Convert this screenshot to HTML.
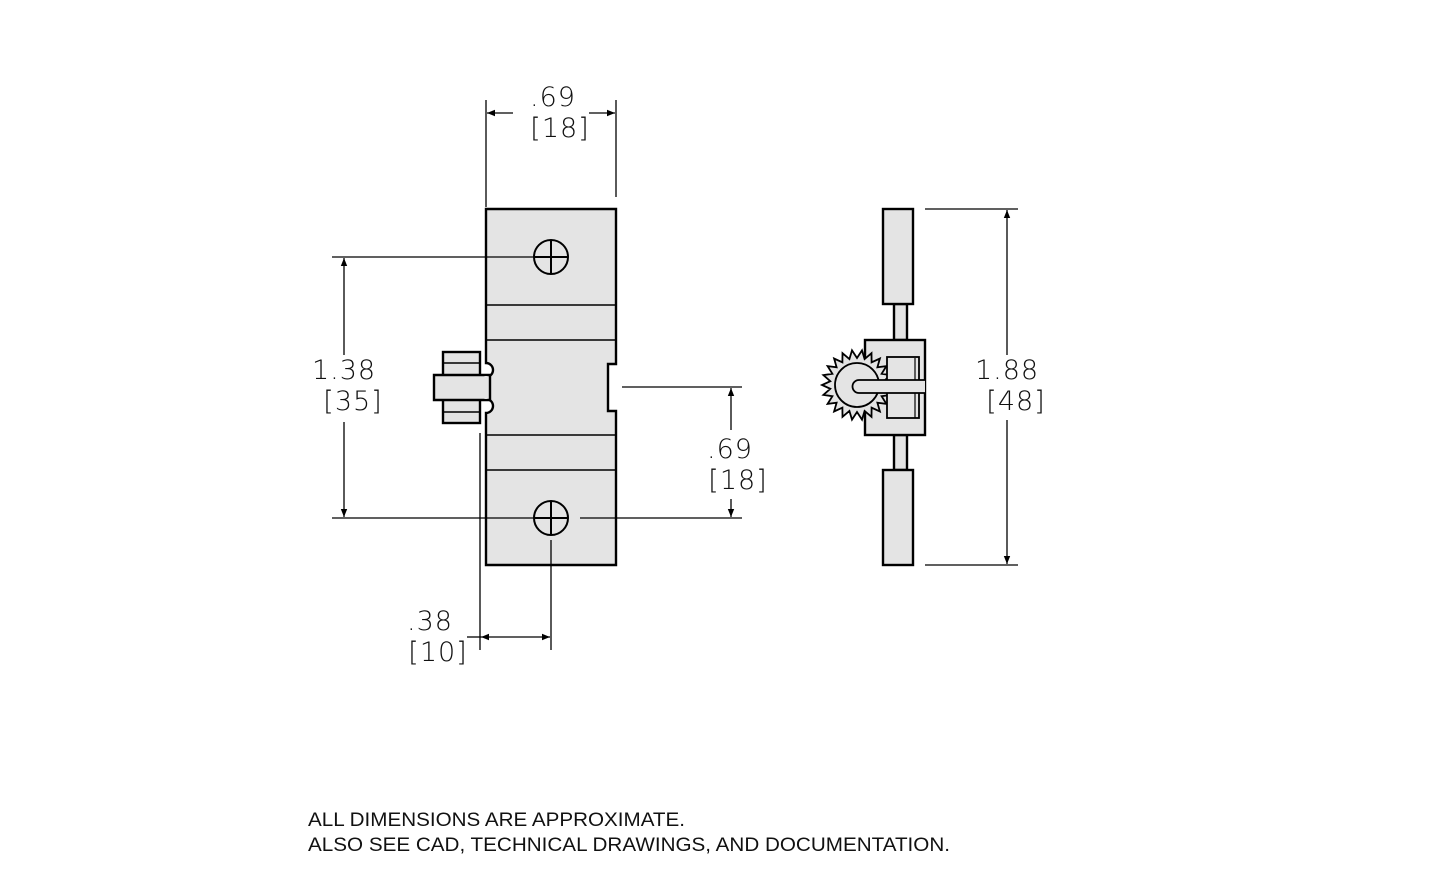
<!DOCTYPE html>
<html><head><meta charset="utf-8"><style>
html,body{margin:0;padding:0;background:#fff;}
svg{display:block}
text{font-family:"DejaVu Sans","Liberation Sans",sans-serif;fill:#111;}
.n{font-size:27px;font-weight:300;letter-spacing:1px}
.f{font-family:"Liberation Sans",sans-serif;font-size:19px}
</style></head><body>
<svg width="1430" height="879" viewBox="0 0 1430 879" xmlns="http://www.w3.org/2000/svg">
<defs>
<marker id="a" viewBox="0 0 10 10" refX="10" refY="5" markerWidth="12" markerHeight="8" markerUnits="userSpaceOnUse" orient="auto-start-reverse"><path d="M0,1 L10,5 L0,9 Z" fill="#000"/></marker>
</defs>
<!-- front view -->
<g stroke="#000" stroke-width="2.4" fill="#e4e4e4">
<path d="M486,209 H616 V364 H608 V411 H616 V565 H486 V413 A6,6 0 1 0 486,399 L486,377 A6,6 0 1 0 486,363 Z"/>
<rect x="443" y="352" width="37" height="71" />
<path d="M434,375 H490 V400 H434 Z"/>
</g>
<g stroke="#000" stroke-width="1.5" fill="none">
<line x1="487" y1="305" x2="615" y2="305"/><line x1="487" y1="340" x2="615" y2="340"/>
<line x1="487" y1="435" x2="615" y2="435"/><line x1="487" y1="470" x2="615" y2="470"/>
<line x1="444" y1="363" x2="480" y2="363"/><line x1="444" y1="412" x2="480" y2="412"/>
<line x1="486" y1="376" x2="486" y2="399" stroke="#e4e4e4" stroke-width="3"/>
</g>
<g stroke="#000" stroke-width="1.3" fill="none">
<!-- top .69 -->
<line x1="486" y1="100" x2="486" y2="207"/>
<line x1="616" y1="100" x2="616" y2="197"/>
<line x1="513" y1="113" x2="487" y2="113" marker-end="url(#a)"/>
<line x1="589" y1="113" x2="615" y2="113" marker-end="url(#a)"/>
<!-- 1.38 -->
<line x1="332" y1="257" x2="540" y2="257"/>
<line x1="332" y1="518" x2="540" y2="518"/>
<line x1="580" y1="518" x2="742" y2="518"/>
<line x1="344" y1="355" x2="344" y2="258" marker-end="url(#a)"/>
<line x1="344" y1="422" x2="344" y2="517" marker-end="url(#a)"/>
<!-- right .69 -->
<line x1="622" y1="387" x2="742" y2="387"/>
<line x1="731" y1="430" x2="731" y2="388" marker-end="url(#a)"/>
<line x1="731" y1="499" x2="731" y2="517" marker-end="url(#a)"/>
<!-- .38 -->
<line x1="480" y1="433" x2="480" y2="650"/>
<line x1="551" y1="540" x2="551" y2="650"/>
<line x1="467" y1="637" x2="481" y2="637"/>
<line x1="515" y1="637" x2="481" y2="637" marker-end="url(#a)"/>
<line x1="515" y1="637" x2="550" y2="637" marker-end="url(#a)"/>
<!-- 1.88 -->
<line x1="925" y1="209" x2="1018" y2="209"/>
<line x1="925" y1="565" x2="1018" y2="565"/>
<line x1="1007" y1="355" x2="1007" y2="210" marker-end="url(#a)"/>
<line x1="1007" y1="420" x2="1007" y2="564" marker-end="url(#a)"/>
</g>
<g stroke="#000" stroke-width="2" fill="none">
<circle cx="551" cy="257" r="17"/><line x1="534" y1="257" x2="568" y2="257"/><line x1="551" y1="240" x2="551" y2="274"/>
<circle cx="551" cy="518" r="17"/><line x1="534" y1="518" x2="568" y2="518"/><line x1="551" y1="501" x2="551" y2="535"/>
</g>
<!-- side view -->
<g stroke="#000" stroke-width="2.4" fill="#e4e4e4">
<rect x="894" y="304" width="13" height="36"/>
<rect x="894" y="435" width="13" height="35"/>
<rect x="883" y="209" width="30" height="95"/>
<rect x="883" y="470" width="30" height="95"/>
<rect x="865" y="340" width="60" height="95"/>
<polygon id="gear" points="" stroke-width="1.8"/>
<rect x="887" y="357" width="32" height="61" stroke-width="1.8"/>
<circle cx="857" cy="385" r="22" stroke-width="1.8"/>
<path d="M925,380 H859 A6.5,6.5 0 0 0 859,393 H925" stroke-width="1.8"/>
</g>
<line x1="915" y1="358" x2="915" y2="380" stroke="#000" stroke-width="1.2"/>
<line x1="915" y1="393" x2="915" y2="418" stroke="#000" stroke-width="1.2"/>
<!-- labels -->
<text class="n" x="553" y="106" text-anchor="middle">.69</text>
<text class="n" x="560" y="137" text-anchor="middle">[18]</text>
<text class="n" x="344" y="379" text-anchor="middle">1.38</text>
<text class="n" x="353" y="410" text-anchor="middle">[35]</text>
<text class="n" x="730" y="458" text-anchor="middle">.69</text>
<text class="n" x="738" y="489" text-anchor="middle">[18]</text>
<text class="n" x="430" y="630" text-anchor="middle">.38</text>
<text class="n" x="438" y="661" text-anchor="middle">[10]</text>
<text class="n" x="1007" y="379" text-anchor="middle">1.88</text>
<text class="n" x="1016" y="410" text-anchor="middle">[48]</text>
<text class="f" x="308" y="826" textLength="377" lengthAdjust="spacingAndGlyphs">ALL DIMENSIONS ARE APPROXIMATE.</text>
<text class="f" x="308" y="851" textLength="642" lengthAdjust="spacingAndGlyphs">ALSO SEE CAD, TECHNICAL DRAWINGS, AND DOCUMENTATION.</text>
</svg>
<script>
var p=[],cx=857,cy=385,n=22;
for(var i=0;i<n;i++){var a=i/n*2*Math.PI,b=(i+0.5)/n*2*Math.PI;
p.push((cx+35*Math.cos(a)).toFixed(1)+','+(cy+35*Math.sin(a)).toFixed(1));
p.push((cx+27*Math.cos(b)).toFixed(1)+','+(cy+27*Math.sin(b)).toFixed(1));}
document.getElementById('gear').setAttribute('points',p.join(' '));
</script>
</body></html>
